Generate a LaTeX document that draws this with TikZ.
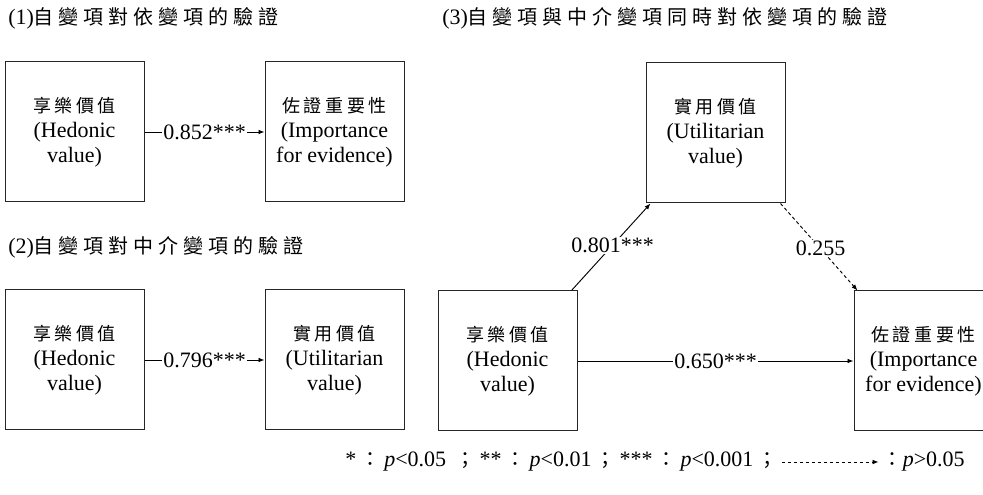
\documentclass[tikz,border=0pt]{standalone}
\usepackage{fontspec}
\setmainfont{Liberation Serif}
\newfontfamily\cjkbox[LetterSpace=20]{Noto Sans CJK TC}
\newfontfamily\cjkhead[LetterSpace=25]{Noto Sans CJK TC}
\newfontfamily\cjkplain{Noto Sans CJK TC}
\newcommand\zh[1]{{\fontsize{13.5pt}{18.75pt}\cjkbox #1}}
\newcommand\zhhead[1]{{\fontsize{15pt}{18.75pt}\cjkhead #1}}
% full-width punctuation of the legend, with a little air around it
\newcommand\fw[1]{\hspace{3pt}{\fontsize{15pt}{18.75pt}\cjkplain #1}\hspace{3pt}}
\usetikzlibrary{arrows.meta,calc}
\tikzset{
  every node/.style={font=\fontsize{16.5pt}{18.75pt}\selectfont},
  box/.style={draw=black!85, line width=0.75pt, minimum width=104.25pt,
    minimum height=105pt, align=center, inner sep=0pt},
  arr/.style={-{Latex[length=4.5pt,width=3.5pt]}, line width=0.7pt},
  darr/.style={arr, dash pattern=on 2.5pt off 2pt},
  lab/.style={fill=white, inner sep=0.8pt},
  head/.style={anchor=west, inner sep=0pt}
}
\begin{document}
\begin{tikzpicture}[x=0.75pt,y=-0.75pt]
\useasboundingbox (0,0) rectangle (983,495);

% section headings
\node[head] (t1) at (8,18) {(1)\zhhead{自變項對依變項的驗證}};
\node[head] (t2) at (8,247) {(2)\zhhead{自變項對中介變項的驗證}};
\node[head] (t3) at (442,18) {(3)\zhhead{自變項與中介變項同時對依變項的驗證}};

% (1) direct effect
\node[box] (h1) at (74.5,132) {\zh{享樂價值}\\(Hedonic\\value)};
\node[box] (i1) at (334.5,132) {\zh{佐證重要性}\\(Importance\\for evidence)};
\draw[arr] (h1.east) -- node[lab] {0.852***} (i1.west);

% (2) effect on the mediator
\node[box] (h2) at (74.5,360) {\zh{享樂價值}\\(Hedonic\\value)};
\node[box] (u2) at (334.5,360) {\zh{實用價值}\\(Utilitarian\\value)};
\draw[arr] (h2.east) -- node[lab] {0.796***} (u2.west);

% (3) mediation model
\node[box] (h3) at (507.5,361) {\zh{享樂價值}\\(Hedonic\\value)};
\node[box] (u3) at (715.5,133) {\zh{實用價值}\\(Utilitarian\\value)};
\node[box] (i3) at (923.5,361) {\zh{佐證重要性}\\(Importance\\for evidence)};
\draw[arr] ($(h3.north east)+(-6,0)$) -- node[lab, pos=0.52] {0.801***} ($(u3.south west)+(5,0)$);
\draw[darr] ($(u3.south east)+(-5,0)$) -- node[lab, pos=0.52] {0.255} ($(i3.north west)+(4,0)$);
\draw[arr] (h3.east) -- node[lab] {0.650***} (i3.west);

% significance legend
\node[anchor=west, inner sep=0pt] (legA) at (345,462)
  {*\fw{：}\textit{p}<0.05 \fw{；}**\fw{：}\textit{p}<0.01\fw{；}***\fw{：}\textit{p}<0.001\fw{；}};
\node[anchor=east, inner sep=0pt] (legB) at (965,462)
  {{\fontsize{15pt}{18.75pt}\cjkplain ：}\textit{p}>0.05};
\coordinate (la) at ($(legA.east)+(4,0)$);
\coordinate (lb) at ($(legB.west)+(-4,0)$);
\draw[darr, line width=0.6pt] (la) -- (lb);
\end{tikzpicture}
\end{document}
